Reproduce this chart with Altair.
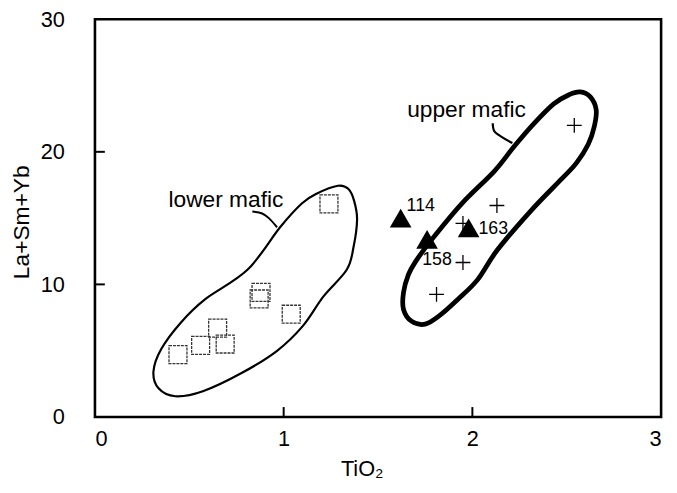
import altair as alt
import pandas as pd

# ---- data ----
square_x = [0.44, 0.56, 0.65, 0.69, 0.88, 0.87, 1.04, 1.24]
square_y = [4.7, 5.4, 6.7, 5.5, 9.4, 8.9, 7.75, 16.07]

cross_x = [2.54, 2.13, 1.95, 1.95, 1.81]
cross_y = [22.0, 15.95, 14.6, 11.65, 9.24]

tri_x = [1.62, 1.98, 1.76]
tri_y = [15.0, 14.27, 13.4]
tri_label = ["114", "163", "158"]

lower_env_x = [1.288, 1.342, 1.373, 1.389, 1.370, 1.334, 1.211, 1.101, 0.965, 0.782,
               0.572, 0.426, 0.337, 0.310, 0.352, 0.457, 0.583, 0.808, 0.981, 1.096, 1.174]
lower_env_y = [17.44, 17.21, 16.32, 14.90, 12.80, 11.10, 9.09, 6.85, 4.99, 3.35,
               1.94, 1.56, 2.16, 3.43, 5.14, 7.15, 8.87, 11.10, 14.31, 16.10, 16.84]

upper_env_x = [2.571, 2.625, 2.656, 2.646, 2.614, 2.551, 2.473, 2.311, 2.132, 2.028,
               1.923, 1.829, 1.750, 1.677, 1.635, 1.635, 1.661, 1.698, 1.782, 1.944,
               2.117, 2.222, 2.326, 2.431, 2.510]
upper_env_y = [24.52, 24.14, 23.17, 21.91, 20.57, 19.15, 17.96, 15.57, 12.59, 10.36,
               8.87, 7.68, 7.00, 7.23, 8.12, 9.39, 10.73, 11.70, 13.34, 16.10,
               18.55, 20.42, 22.13, 23.62, 24.29]

lower_lead_x = [0.834, 0.886, 0.923, 0.965]
lower_lead_y = [15.50, 15.35, 14.98, 14.31]
upper_lead_x = [2.108, 2.117, 2.159, 2.212]
upper_lead_y = [22.15, 21.54, 21.09, 20.66]

group_label = ["lower mafic", "upper mafic"]
group_label_x = [0.694, 1.969]
group_label_y = [16.39, 23.15]

x_ticks = [0, 1, 2, 3]
y_ticks = [0, 10, 20, 30]
x_inner_ticks = [1, 2]
y_inner_ticks = [10, 20]

W, H = 573, 402.5
FONT = "Liberation Sans"

xs = alt.Scale(domain=[0, 3], nice=False, zero=False)
ys = alt.Scale(domain=[0, 30], nice=False, zero=False)

X = alt.X("x:Q", scale=xs, axis=alt.Axis(
    values=x_ticks, domain=False, ticks=False, grid=False, format="d",
    labelFont=FONT, labelFontSize=22, labelColor="black", labelPadding=12,
    title="TiO₂", titleFont=FONT, titleFontSize=22, titleFontWeight="normal",
    titleColor="black", titleX=270, titleY=52, titleBaseline="middle", titleAlign="center"))
Y = alt.Y("y:Q", scale=ys, axis=alt.Axis(
    values=y_ticks, domain=False, ticks=False, grid=False, format="d",
    labelFont=FONT, labelFontSize=22, labelColor="black", labelPadding=31,
    title="La+Sm+Yb", titleFont=FONT, titleFontSize=23, titleFontWeight="normal",
    titleColor="black", titleAngle=-90, titleX=-74, titleY=205,
    titleBaseline="middle", titleAlign="center"))

def env_df(xv, yv):
    return pd.DataFrame({"x": xv, "y": yv, "i": list(range(len(xv)))})

lower_env = alt.Chart(env_df(lower_env_x, lower_env_y)).mark_line(
    interpolate="cardinal-closed", color="black", strokeWidth=2.2).encode(
    x=X, y=Y, order="i:Q")
upper_env = alt.Chart(env_df(upper_env_x, upper_env_y)).mark_line(
    interpolate="cardinal-closed", color="black", strokeWidth=4.8).encode(
    x=X, y=Y, order="i:Q")
lower_lead = alt.Chart(env_df(lower_lead_x, lower_lead_y)).mark_line(
    interpolate="cardinal", color="black", strokeWidth=2).encode(x=X, y=Y, order="i:Q")
upper_lead = alt.Chart(env_df(upper_lead_x, upper_lead_y)).mark_line(
    interpolate="cardinal", color="black", strokeWidth=2.2).encode(x=X, y=Y, order="i:Q")

squares = alt.Chart(pd.DataFrame({"x": square_x, "y": square_y})).mark_point(
    shape="square", filled=False, color="#333333", strokeWidth=1.3, size=330,
    strokeDash=[3, 1], opacity=1).encode(x=X, y=Y)
crosses = alt.Chart(pd.DataFrame({"x": cross_x, "y": cross_y})).mark_point(
    shape="M-1,0L1,0M0,-1L0,1", filled=False, color="black", strokeWidth=1.3,
    size=225, opacity=1).encode(x=X, y=Y)
tri_df = pd.DataFrame({"x": tri_x, "y": tri_y, "t": tri_label})
triangles = alt.Chart(tri_df).mark_point(
    shape="triangle-up", filled=True, color="black", size=480, opacity=1).encode(x=X, y=Y)

lab_114 = alt.Chart(tri_df[tri_df.t == "114"]).mark_text(
    font=FONT, fontSize=18, align="left", baseline="alphabetic", dx=6, dy=-7, color="black"
).encode(x=X, y=Y, text="t:N")
lab_163 = alt.Chart(tri_df[tri_df.t == "163"]).mark_text(
    font=FONT, fontSize=18, align="left", baseline="alphabetic", dx=10, dy=6, color="black"
).encode(x=X, y=Y, text="t:N")
lab_158 = alt.Chart(tri_df[tri_df.t == "158"]).mark_text(
    font=FONT, fontSize=18, align="left", baseline="alphabetic", dx=-5, dy=26, color="black"
).encode(x=X, y=Y, text="t:N")

group_labels = alt.Chart(pd.DataFrame({"x": group_label_x, "y": group_label_y, "t": group_label})).mark_text(
    font=FONT, fontSize=23, align="center", baseline="middle", color="black"
).encode(x=X, y=Y, text="t:N")

xt = alt.Chart(pd.DataFrame({"x": x_inner_ticks})).mark_rule(color="black", strokeWidth=2).encode(
    x=X, y=alt.value(H), y2=alt.value(H - 10))
yt = alt.Chart(pd.DataFrame({"y": y_inner_ticks})).mark_rule(color="black", strokeWidth=2).encode(
    y=Y, x=alt.value(0), x2=alt.value(10))

chart = alt.layer(
    lower_env, upper_env, lower_lead, upper_lead, squares, crosses, triangles,
    lab_114, lab_163, lab_158, group_labels, xt, yt
).properties(
    width=W, height=H,
    autosize=alt.AutoSizeParams(type="none"),
    padding={"left": 88, "top": 8.5, "right": 8, "bottom": 68},
    background="white",
).configure_view(stroke="black", strokeWidth=2.6)

chart.save("out.html", embed_options={"renderer": "svg", "actions": False})
